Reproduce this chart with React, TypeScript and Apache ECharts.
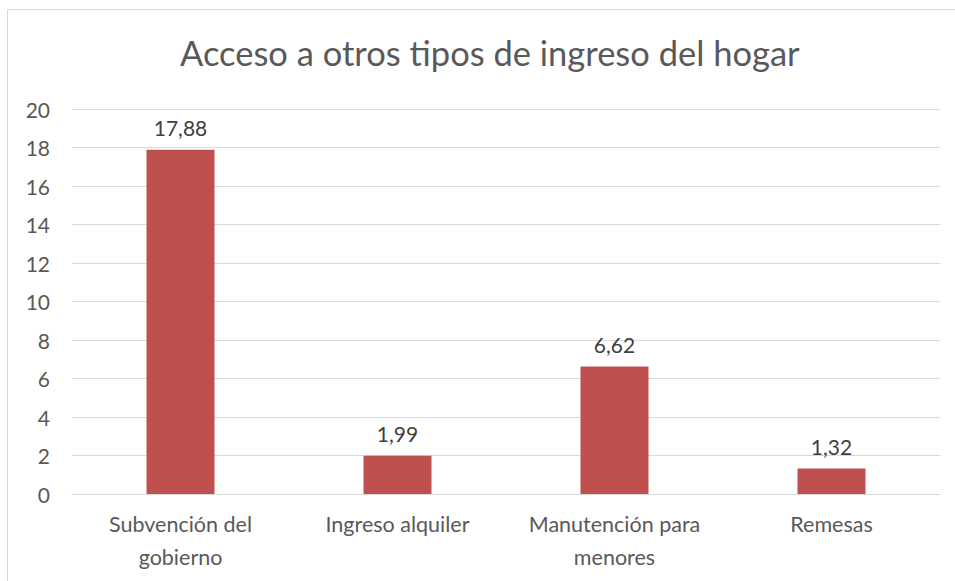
import React, { useEffect, useRef } from "react";
import * as echarts from "echarts";

const categories = ["Subvención del\ngobierno", "Ingreso alquiler", "Manutención para\nmenores", "Remesas"];
const values = [17.88, 1.99, 6.62, 1.32];
const titleText = "Acceso a otros tipos de ingreso del hogar";

export default function App() {
  const ref = useRef<HTMLDivElement>(null);
  useEffect(() => {
    if (!ref.current) return;
    const chart = echarts.init(ref.current, undefined, { renderer: "svg" });
    const font = "Lato";
    chart.setOption({
      animation: false,
      backgroundColor: "#ffffff",
      title: {
        text: titleText,
        left: 175,
        top: 30,
        textStyle: { fontFamily: font, fontSize: 34.5, fontWeight: "normal", color: "#595959" },
      },
      graphic: [
        {
          type: "rect",
          shape: { x: 7.5, y: 9.5, width: 980, height: 620 },
          style: { fill: "none", stroke: "#d9d9d9", lineWidth: 1 },
          silent: true,
        },
      ],
      grid: { left: 72, right: 15, top: 109, bottom: 87, containLabel: false },
      xAxis: {
        type: "category",
        data: categories,
        axisLine: { lineStyle: { color: "#d9d9d9", width: 1 } },
        axisTick: { show: false },
        axisLabel: {
          color: "#595959",
          fontFamily: font,
          fontSize: 21.5,
          lineHeight: 33,
          margin: 13,
          interval: 0,
        },
      },
      yAxis: {
        type: "value",
        min: 0,
        max: 20,
        interval: 2,
        axisLine: { show: false },
        axisTick: { show: false },
        splitLine: { lineStyle: { color: "#d9d9d9", width: 1 } },
        axisLabel: { color: "#595959", fontFamily: font, fontSize: 21, margin: 22 },
      },
      series: [
        {
          type: "bar",
          data: values,
          barWidth: 68,
          itemStyle: { color: "#C0504D" },
          label: {
            show: true,
            position: "top",
            distance: 12,
            color: "#404040",
            fontFamily: font,
            fontSize: 21,
            formatter: (p: any) => p.value.toFixed(2).replace(".", ","),
          },
        },
      ],
    });
    return () => chart.dispose();
  }, []);
  return (
    <div
      ref={ref}
      style={{ position: "absolute", left: 0, top: 0, width: 955, height: 581 }}
    />
  );
}
